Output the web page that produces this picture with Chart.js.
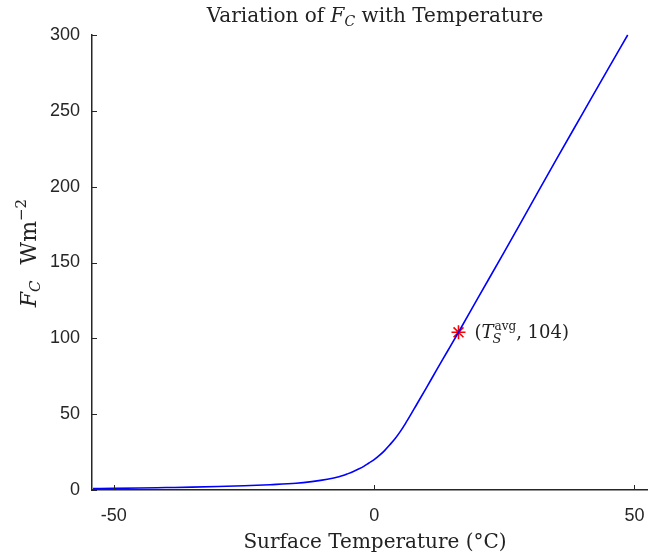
<!DOCTYPE html>
<html>
<head>
<meta charset="utf-8">
<script src="https://cdn.jsdelivr.net/npm/chart.js@4.4.1/dist/chart.umd.min.js"></script>
<style>
  html, body { margin: 0; padding: 0; background: #ffffff; }
  #wrap { width: 648px; height: 556px; position: relative; }
</style>
</head>
<body>
<div id="wrap"><canvas id="c" width="648" height="556"></canvas></div>
<script>
// ---- Data ----
const temperatures = [-54, -50, -45, -40, -35, -30, -25, -20, -15, -12, -10, -8, -7, -6, -5, -4, -3, -2, -1, 0, 1, 2, 3, 4, 5, 6, 7, 8, 10, 12, 14, 16.2, 20, 25, 30, 35, 40, 45, 48.7];
const fluxValues   = [1.0, 1.1, 1.3, 1.6, 1.9, 2.3, 2.8, 3.5, 4.4, 5.5, 6.5, 7.8, 8.6, 9.5, 10.8, 12.2, 13.8, 15.6, 17.8, 20.0, 22.8, 26.0, 29.8, 33.8, 38.5, 43.8, 49.5, 55.4, 67.2, 79.2, 91.0, 104, 127, 157, 187.5, 218, 248, 278, 300];
const avgTemp = [16.2];
const avgFlux = [104];
const xTickValues = [-50, 0, 50];
const yTickValues = [0, 50, 100, 150, 200, 250, 300];

const SANS = '"Liberation Sans", Arial, Helvetica, sans-serif';
const SERIF = '"DejaVu Serif", "Liberation Serif", serif';
const AXIS_COLOR = '#262626';

function fontOf(p) { return (p.italic ? 'italic ' : '') + p.size + 'px ' + SERIF; }

function drawRich(ctx, parts, x, y, align) {
  const widths = parts.map(p => { ctx.font = fontOf(p); return ctx.measureText(p.t).width; });
  let total = 0;
  parts.forEach((p, i) => {
    if (p.stacked) return;
    let w = widths[i];
    if (p.pairNext) w = Math.max(w, widths[i + 1]);
    total += w + (p.kern || 0);
  });
  let cx = align === 'center' ? x - total / 2 : x;
  ctx.textBaseline = 'alphabetic';
  ctx.textAlign = 'left';
  parts.forEach((p, i) => {
    if (p.stacked) return;
    ctx.font = fontOf(p);
    ctx.fillText(p.t, cx, y + (p.dy || 0));
    let w = widths[i];
    if (p.pairNext) {
      const q = parts[i + 1];
      ctx.font = fontOf(q);
      ctx.fillText(q.t, cx + (q.dx || 0), y + (q.dy || 0));
      w = Math.max(w, widths[i + 1]);
    }
    cx += w + (p.kern || 0);
  });
}

const decorPlugin = {
  id: 'decor',
  afterDraw(chart) {
    const ctx = chart.ctx;
    const xs = chart.scales.x, ys = chart.scales.y;
    const area = chart.chartArea;
    ctx.save();
    // inward tick marks
    ctx.strokeStyle = AXIS_COLOR;
    ctx.lineWidth = 1;
    xTickValues.forEach(v => {
      const px = Math.round(xs.getPixelForValue(v)) + 0.5;
      ctx.beginPath(); ctx.moveTo(px, area.bottom); ctx.lineTo(px, area.bottom - 5); ctx.stroke();
    });
    yTickValues.forEach(v => {
      const py = Math.round(ys.getPixelForValue(v)) + 0.5;
      ctx.beginPath(); ctx.moveTo(area.left, py); ctx.lineTo(area.left + 5, py); ctx.stroke();
    });
    ctx.fillStyle = '#222222';
    // title
    drawRich(ctx, [
      {t: 'Variation of ', size: 20},
      {t: 'F', italic: true, size: 20},
      {t: 'C', italic: true, size: 14, dy: 4},
      {t: ' with Temperature', size: 20}
    ], 375, 22, 'center');
    // x axis label
    drawRich(ctx, [
      {t: 'Surface Temperature (°C)', size: 20}
    ], 375, 548, 'center');
    // y axis label (rotated)
    ctx.save();
    ctx.translate(36, 253);
    ctx.rotate(-Math.PI / 2);
    drawRich(ctx, [
      {t: 'F', italic: true, size: 22},
      {t: 'C', italic: true, size: 15, dy: 4, kern: 16},
      {t: 'Wm', size: 22},
      {t: '−2', size: 15, dy: -10}
    ], 0, 0, 'center');
    ctx.restore();
    // annotation
    const ax = xs.getPixelForValue(avgTemp[0]);
    const ay = ys.getPixelForValue(avgFlux[0]);
    drawRich(ctx, [
      {t: '(', size: 18},
      {t: 'T', italic: true, size: 18, kern: 1},
      {t: 'avg', size: 12, dy: -8, pairNext: true},
      {t: 'S', italic: true, size: 13, dy: 5, dx: -2, stacked: true},
      {t: ', 104)', size: 18}
    ], ax + 16, ay + 6, 'left');
    ctx.restore();
  }
};

const ctxEl = document.getElementById('c');
new Chart(ctxEl, {
  type: 'line',
  data: {
    datasets: [
      {
        data: temperatures.map((t, i) => ({x: t, y: fluxValues[i]})),
        borderColor: '#0000ff',
        borderWidth: 1.6,
        pointRadius: 0,
        cubicInterpolationMode: 'monotone',
        fill: false,
        clip: 4
      },
      {
        data: avgTemp.map((t, i) => ({x: t, y: avgFlux[i]})),
        showLine: false,
        pointStyle: 'star',
        pointRadius: 7,
        pointBorderColor: '#ff0000',
        pointBackgroundColor: '#ff0000',
        pointBorderWidth: 1.6,
        clip: false
      }
    ]
  },
  options: {
    responsive: false,
    animation: false,
    devicePixelRatio: 1,
    layout: { autoPadding: false, padding: { top: 35, right: 0, left: 0, bottom: 0 } },
    plugins: { legend: { display: false }, title: { display: false }, tooltip: { enabled: false } },
    scales: {
      x: {
        type: 'linear',
        min: -54.2,
        max: 52.6,
        afterBuildTicks(scale) { scale.ticks = xTickValues.map(v => ({value: v})); },
        afterFit(scale) { scale.height = 66; scale.paddingLeft = 0; scale.paddingRight = 0; },
        grid: { display: false, drawTicks: false },
        border: { display: true, color: AXIS_COLOR, width: 1.5 },
        ticks: { color: AXIS_COLOR, font: { family: SANS, size: 18 }, padding: 15, maxRotation: 0, autoSkip: false }
      },
      y: {
        type: 'linear',
        min: 0,
        max: 300,
        afterBuildTicks(scale) { scale.ticks = yTickValues.map(v => ({value: v})); },
        afterFit(scale) { scale.width = 92; scale.paddingTop = 0; scale.paddingBottom = 0; },
        grid: { display: false, drawTicks: false },
        border: { display: true, color: AXIS_COLOR, width: 1.5 },
        ticks: { color: AXIS_COLOR, font: { family: SANS, size: 18 }, padding: 12, autoSkip: false }
      }
    }
  },
  plugins: [decorPlugin]
});
</script>
</body>
</html>
